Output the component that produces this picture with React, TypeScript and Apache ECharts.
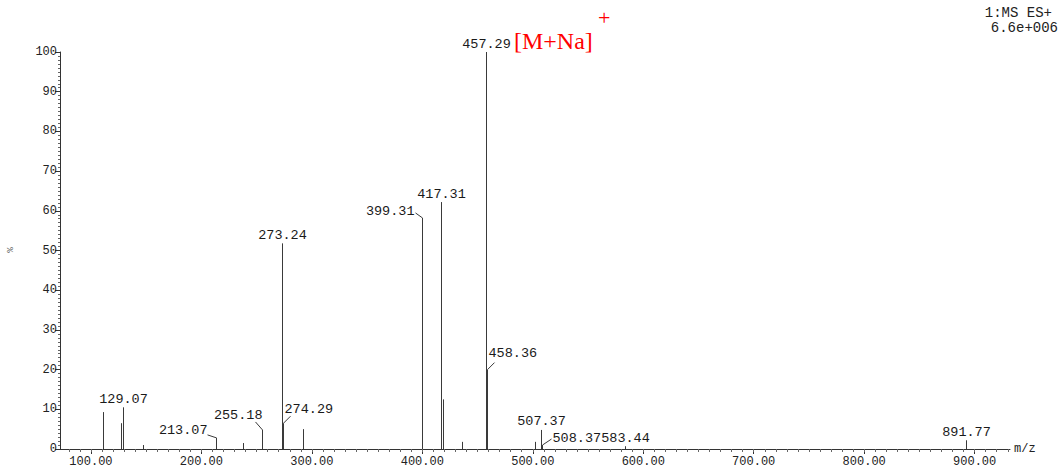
import React, { useEffect, useRef } from "react";
import * as echarts from "echarts";

// ---- data ----
const peakMz = [111.0, 127.3, 129.07, 147.0, 213.07, 237.5, 255.18, 273.24, 274.29, 291.9, 399.31, 417.31, 418.5, 436.0, 457.29, 458.36, 502.0, 507.37, 508.37, 583.44, 891.77];
const peakIntensity = [9.3, 6.5, 10.5, 1.0, 2.8, 1.5, 4.8, 51.8, 6.5, 5.0, 58.2, 62.2, 12.5, 1.8, 100, 20.0, 1.8, 4.8, 1.0, 0.7, 2.2];

const labeledMz = [129.07, 213.07, 255.18, 273.24, 274.29, 399.31, 417.31, 457.29, 458.36, 507.37, 508.37, 583.44, 891.77];

const xTickValues = [100, 200, 300, 400, 500, 600, 700, 800, 900];
const yTickValues = [0, 10, 20, 30, 40, 50, 60, 70, 80, 90, 100];

const xMin = 72;
const xMax = 932;

// ---- label placement (styling only) ----
type Place = { align: string; dx: number; dy: number; lx?: number; ly?: number };
const top: Place = { align: "center", dx: 0, dy: -8 };
const labelPlacement: Place[] = [
  top,
  { align: "right", dx: -9, dy: -7, lx: -9, ly: -3 },
  { align: "right", dx: 0, dy: -14, lx: -7, ly: -8 },
  top,
  { align: "left", dx: 1, dy: -14, lx: 7, ly: -7 },
  { align: "right", dx: -8, dy: -6, lx: -7, ly: -5 },
  top,
  top,
  { align: "left", dx: 1, dy: -16, lx: 7, ly: -7 },
  top,
  { align: "left", dx: 10, dy: -7, lx: 9, ly: -6 },
  top,
  top,
];

const mono = "Liberation Mono";

const minorXTicks: number[] = [];
for (let v = 80; v <= 930; v += 10) minorXTicks.push(v);

export default function App() {
  const ref = useRef<HTMLDivElement>(null);
  useEffect(() => {
    if (!ref.current) return;
    const chart = echarts.init(ref.current, null, { renderer: "svg" });
    const peakData = peakMz.map((m, i) => [m, peakIntensity[i]]);
    const labelData = labeledMz.map((m, i) => [m, peakIntensity[peakMz.indexOf(m)], i]);

    chart.setOption({
      animation: false,
      backgroundColor: "#ffffff",
      grid: { left: 60, right: 50, top: 52, bottom: 20, containLabel: false },
      xAxis: [
        {
          type: "value",
          min: xMin,
          max: xMax,
          splitLine: { show: false },
          axisLine: { show: true, onZero: false, lineStyle: { color: "#333", width: 1 } },
          axisTick: { show: true, length: 5, customValues: xTickValues, lineStyle: { color: "#333" } },
          axisLabel: {
            customValues: xTickValues,
            formatter: (v: number) => v.toFixed(2),
            fontFamily: mono,
            fontSize: 12,
            color: "#222",
            margin: 7,
          },
        },
        {
          type: "value",
          min: xMin,
          max: xMax,
          position: "bottom",
          splitLine: { show: false },
          axisLine: { show: false, onZero: false },
          axisTick: { show: true, length: 3, customValues: minorXTicks, lineStyle: { color: "#666" } },
          axisLabel: { show: false },
        },
      ],
      yAxis: {
        type: "value",
        min: 0,
        max: 100,
        interval: 10,
        splitLine: { show: false },
        axisLine: { show: true, lineStyle: { color: "#333", width: 1 } },
        axisTick: { show: true, length: 5, customValues: yTickValues, lineStyle: { color: "#333" } },
        minorTick: { show: true, splitNumber: 10, length: 2, lineStyle: { color: "#666" } },
        axisLabel: { fontFamily: mono, fontSize: 12, color: "#222", margin: 3 },
      },
      series: [
        {
          type: "custom",
          coordinateSystem: "cartesian2d",
          data: peakData,
          silent: true,
          renderItem: (params: any, api: any) => {
            const p0 = api.coord([api.value(0), 0]);
            const p1 = api.coord([api.value(0), api.value(1)]);
            const x = Math.round(p0[0]) + 0.5;
            return {
              type: "line",
              shape: { x1: x, y1: p0[1], x2: x, y2: p1[1] },
              style: { stroke: "#3a3a3a", lineWidth: 1 },
            };
          },
        },
        {
          type: "custom",
          coordinateSystem: "cartesian2d",
          data: labelData,
          silent: true,
          clip: false,
          renderItem: (params: any, api: any) => {
            const mz = api.value(0);
            const p = api.coord([mz, api.value(1)]);
            const pl = labelPlacement[api.value(2)];
            const x = Math.round(p[0]) + 0.5;
            const children: any[] = [
              {
                type: "text",
                x: x + pl.dx,
                y: p[1] + pl.dy,
                style: {
                  text: mz.toFixed(2),
                  fill: "#1a1a1a",
                  font: `13.5px "${mono}"`,
                  textAlign: pl.align,
                  textVerticalAlign: "middle",
                  align: pl.align,
                  verticalAlign: "middle",
                },
              },
            ];
            if (pl.lx !== undefined) {
              children.push({
                type: "line",
                shape: { x1: x, y1: p[1], x2: x + (pl.lx as number), y2: p[1] + (pl.ly as number) },
                style: { stroke: "#3a3a3a", lineWidth: 1 },
              });
            }
            return { type: "group", children };
          },
        },
      ],
      graphic: [
        {
          type: "text",
          right: 8,
          top: 6,
          style: { text: "1:MS ES+", font: `14px "${mono}"`, fill: "#222" },
        },
        {
          type: "text",
          right: 2,
          top: 21,
          style: { text: "6.6e+006", font: `14px "${mono}"`, fill: "#222" },
        },
        {
          type: "text",
          left: 514,
          top: 29,
          style: { text: "[M+Na]", font: `24px "Liberation Serif"`, fill: "#ff0000" },
        },
        {
          type: "text",
          left: 598,
          top: 6,
          style: { text: "+", font: `22px "Liberation Serif"`, fill: "#ff0000" },
        },
        {
          type: "text",
          left: 1014,
          top: 443,
          style: { text: "m/z", font: `12px "${mono}"`, fill: "#222" },
        },
        {
          type: "text",
          x: 9,
          y: 250,
          rotation: -Math.PI / 2,
          style: { text: "%", font: `9px "${mono}"`, fill: "#555", align: "center", verticalAlign: "middle", textAlign: "center", textVerticalAlign: "middle" },
        },
      ],
    });
    return () => chart.dispose();
  }, []);
  return (
    <div
      ref={ref}
      style={{ position: "absolute", left: 0, top: 0, width: 1060, height: 469, background: "#fff" }}
    />
  );
}
